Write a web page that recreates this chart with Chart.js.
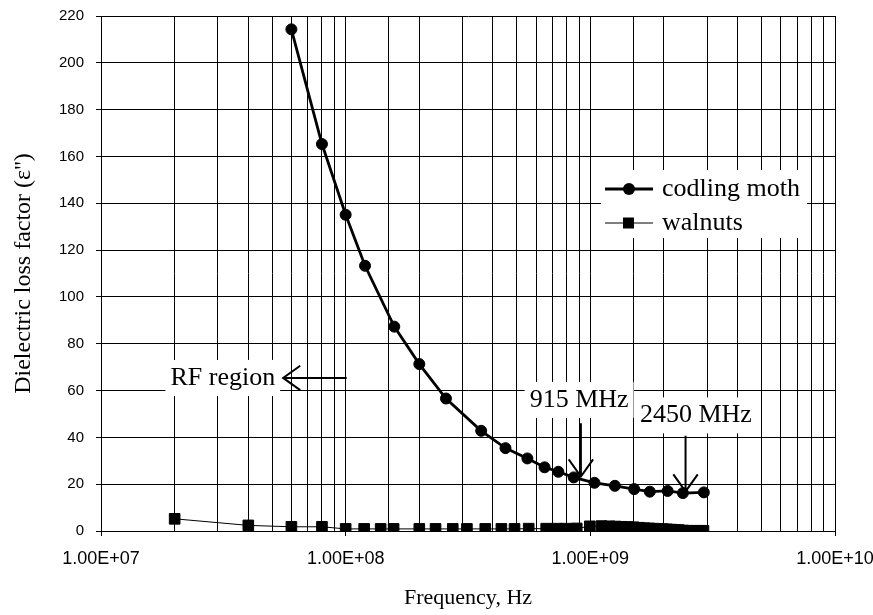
<!DOCTYPE html>
<html>
<head>
<meta charset="utf-8">
<script src="https://cdn.jsdelivr.net/npm/chart.js@4.4.1/dist/chart.umd.min.js"></script>
<style>
  html, body { margin: 0; padding: 0; background: #fff; }
</style>
</head>
<body>
<canvas id="chart" width="873" height="615"></canvas>
<script>
// codling moth: frequency (Hz) and loss factor
const moth_freq = [6.0e7, 8.0e7, 1.0e8, 1.2e8, 1.58e8, 2.0e8, 2.57e8, 3.58e8, 4.5e8, 5.53e8,
  6.5e8, 7.4e8, 8.55e8, 1.04e9, 1.26e9, 1.51e9, 1.75e9, 2.07e9, 2.39e9, 2.91e9];
const moth_loss = [214.3, 165.3, 135.1, 113.3, 87.3, 71.3, 56.6, 42.8, 35.4, 31.0,
  27.2, 25.3, 22.9, 20.6, 19.3, 17.9, 16.8, 17.1, 16.2, 16.5];

// walnuts
const nut_freq = [2e7, 4e7, 6e7, 8e7, 1e8, 1.19e8, 1.39e8, 1.57e8, 2e8, 2.33e8, 2.74e8, 3.13e8,
  3.72e8, 4.33e8, 4.9e8, 5.6e8, 6.6e8, 7.3e8, 7.95e8, 8.8e8, 9.95e8, 1.11e9, 1.2e9, 1.27e9,
  1.34e9, 1.42e9, 1.5e9, 1.58e9, 1.66e9, 1.74e9, 1.82e9, 1.9e9, 1.98e9, 2.06e9, 2.14e9,
  2.22e9, 2.3e9, 2.4e9, 2.5e9, 2.6e9, 2.7e9, 2.8e9, 2.9e9];
const nut_loss = [5.2, 2.4, 1.8, 1.8, 0.9, 0.9, 0.9, 0.9, 0.9, 0.9, 0.9, 0.9,
  0.9, 0.9, 0.9, 1.0, 1.0, 1.0, 1.0, 1.1, 2.0, 2.1, 2.0, 1.9,
  1.8, 1.7, 1.6, 1.4, 1.2, 1.1, 1.0, 0.9, 0.8, 0.7, 0.6,
  0.5, 0.4, 0.2, 0.1, 0.1, 0.1, 0.1, 0.1];

const series_names = ["codling moth", "walnuts"];
const x_min = 1e7, x_max = 1e10;
const y_min = 0, y_max = 220, y_step = 20;

// text notes with arrows (in data units)
const notes = [
  { text: "RF region", tx: 5.15e7, ty: 65.4, align: "right",
    from: [1.01e8, 65.4], to: [5.55e7, 65.4] },
  { text: "915 MHz", tx: 9.0e8, ty: 56.0, align: "center",
    from: [915e6, 46], to: [915e6, 23.3] },
  { text: "2450 MHz", tx: 2.7e9, ty: 49.4, align: "center",
    from: [2450e6, 40.7], to: [2450e6, 16.9] }
];

const serif = "'Liberation Serif', 'Times New Roman', serif";
const sans = "'Liberation Sans', Arial, sans-serif";
const note_font = "26px " + serif;

function pts(xs, ys) {
  return xs.map((x, i) => ({ x: x, y: ys[i] }));
}

function isDecade(v) {
  const e = Math.log10(v);
  return Math.abs(e - Math.round(e)) < 1e-9;
}

function arrow(ctx, x1, y1, x2, y2) {
  const ang = Math.atan2(y2 - y1, x2 - x1);
  const len = 21, spread = 0.62;
  ctx.beginPath();
  ctx.moveTo(x1, y1);
  ctx.lineTo(x2, y2);
  ctx.moveTo(x2 - len * Math.cos(ang - spread), y2 - len * Math.sin(ang - spread));
  ctx.lineTo(x2, y2);
  ctx.lineTo(x2 - len * Math.cos(ang + spread), y2 - len * Math.sin(ang + spread));
  ctx.stroke();
}

const notesPlugin = {
  id: "notes",
  beforeDatasetsDraw(chart) {
    const ctx = chart.ctx;
    const xs = chart.scales.x, ys = chart.scales.y;
    ctx.save();
    ctx.fillStyle = "#fff";
    ctx.font = note_font;
    notes.forEach(n => {
      const w = ctx.measureText(n.text).width;
      let x = xs.getPixelForValue(n.tx);
      const y = ys.getPixelForValue(n.ty);
      if (n.align === "right") x -= w;
      else if (n.align === "center") x -= w / 2;
      ctx.fillRect(x - 5, y - 18, w + 10, 36);
    });
    // legend background
    ctx.fillRect(601, 170, 206, 68);
    ctx.restore();
  },
  afterDatasetsDraw(chart) {
    const ctx = chart.ctx;
    const xs = chart.scales.x, ys = chart.scales.y;
    ctx.save();
    ctx.fillStyle = "#000";
    ctx.strokeStyle = "#000";
    ctx.lineWidth = 2;
    ctx.font = note_font;
    ctx.textBaseline = "middle";
    notes.forEach(n => {
      ctx.textAlign = n.align;
      ctx.fillText(n.text, xs.getPixelForValue(n.tx), ys.getPixelForValue(n.ty));
      arrow(ctx, xs.getPixelForValue(n.from[0]), ys.getPixelForValue(n.from[1]),
        xs.getPixelForValue(n.to[0]), ys.getPixelForValue(n.to[1]));
    });

    // legend
    const rows = [189, 223];
    chart.data.datasets.forEach((ds, i) => {
      const y = rows[i];
      ctx.lineWidth = ds.borderWidth;
      ctx.beginPath();
      ctx.moveTo(605, y);
      ctx.lineTo(653, y);
      ctx.stroke();
      ctx.beginPath();
      if (ds.pointStyle === "rect") {
        ctx.rect(623, y - 5.5, 11, 11);
      } else {
        ctx.arc(629, y, 6, 0, Math.PI * 2);
      }
      ctx.fill();
      ctx.textAlign = "left";
      ctx.fillText(ds.label, 662, y);
    });
    ctx.restore();
  }
};

new Chart(document.getElementById("chart"), {
  type: "line",
  data: {
    datasets: [
      {
        label: series_names[0],
        data: pts(moth_freq, moth_loss),
        borderColor: "#000",
        backgroundColor: "#000",
        borderWidth: 2.8,
        pointStyle: "circle",
        pointRadius: 5.5,
        pointBorderWidth: 1,
        tension: 0
      },
      {
        label: series_names[1],
        data: pts(nut_freq, nut_loss),
        borderColor: "#000",
        backgroundColor: "#000",
        borderWidth: 1,
        pointStyle: "rect",
        pointRadius: 7.5,
        pointBorderWidth: 1,
        tension: 0
      }
    ]
  },
  options: {
    responsive: false,
    animation: false,
    layout: { padding: { top: 16, right: 38, left: 0, bottom: 0 } },
    plugins: { legend: { display: false }, tooltip: { enabled: false } },
    scales: {
      x: {
        type: "logarithmic",
        min: x_min,
        max: x_max,
        afterFit(s) { s.height = 84; s.paddingLeft = 0; s.paddingRight = 0; },
        grid: {
          color: "#000",
          lineWidth: 1,
          tickLength: 5,
          tickColor: c => (c.tick && isDecade(c.tick.value)) ? "#000" : "rgba(0,0,0,0)"
        },
        border: { color: "#000", width: 1 },
        ticks: {
          autoSkip: false,
          maxRotation: 0,
          padding: 12,
          color: "#000",
          font: { family: sans, size: 18 },
          callback(v) {
            if (!isDecade(v)) return "";
            const e = Math.round(Math.log10(v));
            return "1.00E+" + String(e).padStart(2, "0");
          }
        },
        title: {
          display: true,
          text: "Frequency, Hz",
          color: "#000",
          font: { family: serif, size: 22 },
          padding: { top: 0, bottom: 4 }
        }
      },
      y: {
        min: y_min,
        max: y_max,
        afterFit(s) { s.width = 101; s.paddingTop = 0; s.paddingBottom = 0; },
        grid: { color: "#000", lineWidth: 1, tickLength: 5, tickColor: "#000" },
        border: { color: "#000", width: 1 },
        ticks: {
          stepSize: y_step,
          padding: 12,
          color: "#000",
          font: { family: sans, size: 15 }
        },
        title: {
          display: true,
          text: "Dielectric loss factor (ε'')",
          color: "#000",
          font: { family: serif, size: 24 },
          padding: { top: 9, bottom: 0 }
        }
      }
    }
  },
  plugins: [notesPlugin]
});
</script>
</body>
</html>
